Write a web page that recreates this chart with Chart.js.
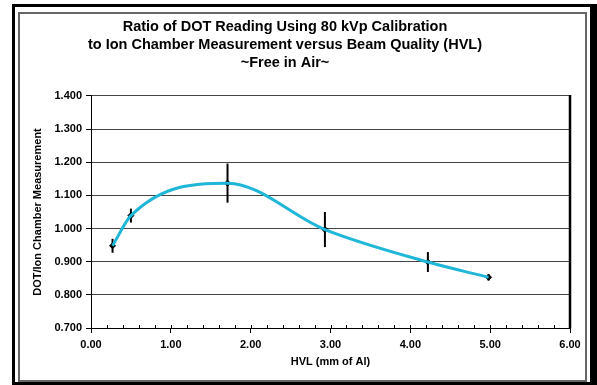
<!DOCTYPE html>
<html>
<head>
<meta charset="utf-8">
<script src="https://cdn.jsdelivr.net/npm/chart.js@4"></script>
<style>
    body { margin: 0; background: #fff; }
    #outer {
        position: absolute; left: 12px; top: 4px; width: 575px; height: 375px;
        border-style: solid; border-color: #000; border-width: 3px 7px 3px 3px;
    }
    #inner {
        position: absolute; left: 18px; top: 12px; width: 565px; height: 366px;
        border: 2px solid #666;
    }
    #wrap { position: absolute; left: 0; top: 0; width: 597px; height: 385px; }
</style>
</head>
<body>
<div id="outer"></div>
<div id="inner"></div>
<div id="wrap"><canvas id="hvlChart" width="597" height="385"></canvas></div>
<script>
// values
const hvl = [0.27, 0.50, 1.71, 2.93, 4.22, 4.98];
const ratio = [0.948, 1.039, 1.137, 0.997, 0.899, 0.853];
const errBar = [0.021, 0.021, 0.059, 0.053, 0.030, 0.010];

const xMin = 0, xMax = 6, xStep = 1, xMinorStep = 0.2;
const yMin = 0.7, yMax = 1.4, yStep = 0.1;

const titleLines = [
    'Ratio of DOT Reading Using 80 kVp Calibration',
    'to Ion Chamber Measurement versus Beam Quality (HVL)',
    '~Free in Air~'
];
const xTitle = 'HVL (mm of Al)';
const yTitle = 'DOT/Ion Chamber Measurement';

const FONT = '"Liberation Sans", Arial, sans-serif';

// error bars as two-point line datasets
const errorSets = hvl.map((x, i) => ({
    type: 'line',
    data: [{ x: x, y: ratio[i] - errBar[i] }, { x: x, y: ratio[i] + errBar[i] }],
    borderColor: '#000',
    borderWidth: 2,
    pointRadius: 0,
    tension: 0,
    order: 2
}));

const frameTicks = {
    id: 'frameTicks',
    afterDraw(chart) {
        const { ctx, chartArea } = chart;
        const xs = chart.scales.x;
        ctx.save();
        // minor ticks inside the plot on the x axis
        ctx.strokeStyle = '#000';
        ctx.lineWidth = 1;
        const n = Math.round((xMax - xMin) / xMinorStep);
        for (let i = 0; i <= n; i++) {
            const px = Math.round(xs.getPixelForValue(xMin + i * xMinorStep)) + 0.5;
            ctx.beginPath();
            ctx.moveTo(px, chartArea.bottom);
            ctx.lineTo(px, chartArea.bottom - 3);
            ctx.stroke();
        }
        // heavy right edge of plot
        ctx.lineWidth = 2.5;
        ctx.beginPath();
        ctx.moveTo(chartArea.right, chartArea.top - 1);
        ctx.lineTo(chartArea.right, chartArea.bottom);
        ctx.stroke();
        ctx.restore();
    }
};

new Chart(document.getElementById('hvlChart').getContext('2d'), {
    type: 'line',
    data: {
        datasets: [
            {
                data: hvl.map((x, i) => ({ x: x, y: ratio[i] })),
                borderColor: '#1fb6d8',
                borderWidth: 3,
                pointRadius: 0,
                cubicInterpolationMode: 'monotone',
                order: 0
            },
            {
                type: 'scatter',
                data: hvl.map((x, i) => ({ x: x, y: ratio[i] })),
                pointStyle: 'rectRot',
                pointRadius: 3,
                backgroundColor: '#000',
                borderColor: '#000',
                order: 1
            },
            ...errorSets
        ]
    },
    options: {
        responsive: false,
        animation: false,
        layout: { padding: { left: 0, right: 27, top: 0, bottom: 0 } },
        plugins: {
            legend: { display: false },
            tooltip: { enabled: false },
            title: {
                display: true,
                text: titleLines,
                color: '#000',
                font: { family: FONT, size: 14.5, weight: 'bold', lineHeight: 1.24 },
                padding: { top: 18, bottom: 24 }
            }
        },
        scales: {
            x: {
                type: 'linear',
                min: xMin,
                max: xMax,
                afterFit: s => { s.height = 57; },
                ticks: {
                    stepSize: xStep,
                    padding: 5,
                    color: '#000',
                    maxRotation: 0,
                    font: { family: FONT, size: 11, weight: 'bold' },
                    callback: v => v.toFixed(2)
                },
                grid: { drawOnChartArea: false, tickLength: 5, color: '#000' },
                border: { color: '#000', width: 1 },
                title: {
                    display: true,
                    text: xTitle,
                    color: '#000',
                    font: { family: FONT, size: 11, weight: 'bold' },
                    padding: { top: 0, bottom: 16 }
                }
            },
            y: {
                min: yMin,
                max: yMax,
                afterFit: s => { s.width = 91; },
                ticks: {
                    stepSize: yStep,
                    padding: 4,
                    color: '#000',
                    font: { family: FONT, size: 11, weight: 'bold' },
                    callback: v => v.toFixed(3)
                },
                grid: { color: '#444', tickColor: '#000', tickLength: 5 },
                border: { color: '#000', width: 1 },
                title: {
                    display: true,
                    text: yTitle,
                    color: '#000',
                    font: { family: FONT, size: 11, weight: 'bold' },
                    padding: { top: 31, bottom: 0 }
                }
            }
        }
    },
    plugins: [frameTicks]
});
</script>
</body>
</html>
